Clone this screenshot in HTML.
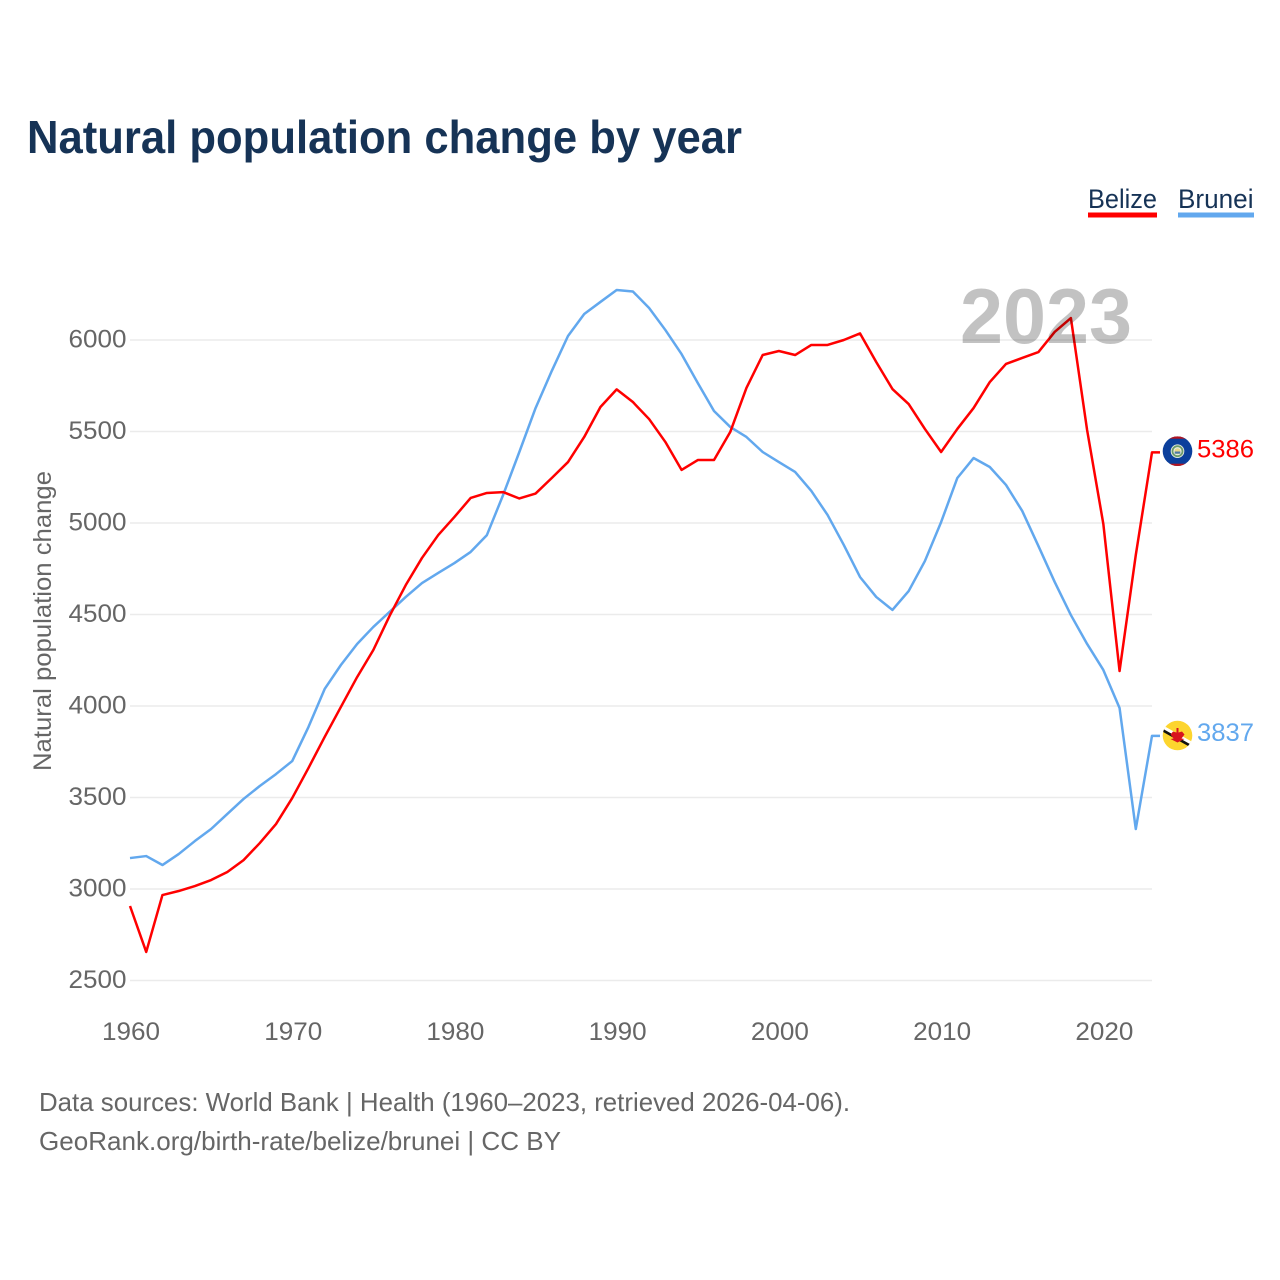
<!DOCTYPE html>
<html lang="en">
<head>
<meta charset="utf-8">
<title>Natural population change by year</title>
<style>
html,body{margin:0;padding:0;background:#fff;}
svg{display:block;font-family:"Liberation Sans",sans-serif;}
</style>
</head>
<body>
<svg id="chart" xmlns="http://www.w3.org/2000/svg" width="1280" height="1280" viewBox="0 0 1280 1280">
  <rect x="0" y="0" width="1280" height="1280" fill="#fff"/>
  <text x="27" y="153" font-size="46" font-weight="700" fill="#163356" textLength="715" lengthAdjust="spacingAndGlyphs">Natural population change by year</text>

  <g>
    <text x="1088" y="208" font-size="27" fill="#163356" textLength="69" lengthAdjust="spacingAndGlyphs">Belize</text>
    <rect x="1088" y="212.5" width="69" height="5" fill="#ff0000"/>
  </g>
  <g>
    <text x="1178" y="208" font-size="27" fill="#163356" textLength="75.500" lengthAdjust="spacingAndGlyphs">Brunei</text>
    <rect x="1178" y="212.5" width="76" height="5" fill="#62a8ee"/>
  </g>

  <g id="grid"></g>
  <g id="yticks"></g>
  <g id="xticks"></g>
  <text transform="translate(51,621) rotate(-90)" text-anchor="middle" font-size="25" fill="#666" textLength="300" lengthAdjust="spacingAndGlyphs">Natural population change</text>

  <g id="series"></g>

  <text id="year" x="1132" y="343" text-anchor="end" font-size="78" font-weight="700" fill="#000" fill-opacity="0.24" textLength="172" lengthAdjust="spacingAndGlyphs">2023</text>

  <g transform="translate(1177.500,451.200)">
    <clipPath id="clipBz"><circle cx="0" cy="0" r="14.800"/></clipPath>
    <g clip-path="url(#clipBz)">
      <rect x="-15" y="-15" width="30" height="30" fill="#0b3f9c"/>
      <rect x="-15" y="-15" width="30" height="2.500" fill="#b5141f"/>
      <rect x="-15" y="12.500" width="30" height="2.500" fill="#b5141f"/>
    </g>
    <circle cx="0" cy="0" r="6.800" fill="#e8eee4"/>
    <circle cx="0" cy="0" r="5" fill="none" stroke="#6d9a6a" stroke-width="1.800"/>
    <circle cx="0" cy="0" r="3" fill="#e8d68a"/>
    <rect x="-2.800" y="0.300" width="5.600" height="2.200" fill="#4a78a8"/>
  </g>
  <g transform="translate(1177.500,735.500)">
    <clipPath id="clipBn"><circle cx="0" cy="0" r="14.800"/></clipPath>
    <g clip-path="url(#clipBn)">
      <rect x="-15" y="-15" width="30" height="30" fill="#fdd52e"/>
      <path d="M-16,-11 L16,7 L16,10.500 L-16,-7.500 Z" fill="#ffffff"/>
      <path d="M-16,-7.500 L16,10.500 L16,13.500 L-16,-4.500 Z" fill="#111111"/>
    </g>
    <path d="M-1,-7.500 L1,-7.500 L1,-3 L4.500,-4 L7,-1 L4,3 L7,3.500 L0,7 L-7,3.500 L-4,3 L-7,-1 L-4.500,-4 L-1,-3 Z" fill="#d8141f"/>
  </g>

  <g id="endLabels"></g>

  <text x="39" y="1111" font-size="26" fill="#666" textLength="811" lengthAdjust="spacingAndGlyphs">Data sources: World Bank | Health (1960–2023, retrieved 2026-04-06).</text>
  <text x="39" y="1150" font-size="26" fill="#666" textLength="522" lengthAdjust="spacingAndGlyphs">GeoRank.org/birth-rate/belize/brunei | CC BY</text>
</svg>
<script>
const firstYear = 1960;
const belizeValues = [2907,2656,2967,2989,3016,3049,3093,3158,3251,3355,3497,3661,3831,3995,4158,4306,4492,4661,4809,4934,5033,5137,5164,5169,5134,5161,5246,5333,5470,5634,5730,5661,5568,5443,5290,5344,5344,5497,5738,5918,5940,5918,5973,5973,6000,6036,5880,5732,5650,5514,5388,5514,5628,5770,5869,5902,5934,6044,6120,5508,4995,4191,4825,5386];
const bruneiValues = [3169,3180,3131,3191,3262,3328,3410,3492,3563,3628,3699,3885,4093,4224,4339,4432,4514,4596,4672,4727,4781,4842,4934,5153,5388,5628,5831,6022,6142,6208,6273,6265,6175,6055,5923,5765,5612,5525,5470,5388,5333,5279,5175,5044,4880,4705,4596,4525,4628,4792,5005,5246,5355,5306,5208,5066,4874,4678,4497,4339,4197,3989,3328,3837];
const yTickValues = [2500,3000,3500,4000,4500,5000,5500,6000];
const xTickYears = [1960,1970,1980,1990,2000,2010,2020];

const NS = 'http://www.w3.org/2000/svg';
function xScale(year){ return 130 + (year - 1960) * (1152 - 130) / 63; }
function yScale(v){ return 980.5 - (v - 2500) * (640.5 / 3500); }

const grid = document.getElementById('grid');
const yticks = document.getElementById('yticks');
const xticks = document.getElementById('xticks');
const series = document.getElementById('series');
const endLabels = document.getElementById('endLabels');

yTickValues.forEach(function(v){
  const line = document.createElementNS(NS, 'line');
  
  
  line.setAttribute('x1', 130);
  line.setAttribute('x2', 1152);
  line.setAttribute('y1', yScale(v));
  line.setAttribute('y2', yScale(v));
  line.setAttribute('stroke', '#ebebeb');
  line.setAttribute('stroke-width', '1.5');
  grid.appendChild(line);

  const t = document.createElementNS(NS, 'text');
  
  
  t.setAttribute('x', 126.5);
  t.setAttribute('y', yScale(v) + 7.5);
  t.setAttribute('text-anchor', 'end');
  t.setAttribute('font-size', '25');
  t.setAttribute('fill', '#666');
  t.setAttribute('textLength', '58');
  t.setAttribute('lengthAdjust', 'spacingAndGlyphs');
  t.textContent = String(v);
  yticks.appendChild(t);
});

xTickYears.forEach(function(y){
  const t = document.createElementNS(NS, 'text');
  
  
  t.setAttribute('x', xScale(y) + 1);
  t.setAttribute('y', 1040);
  t.setAttribute('text-anchor', 'middle');
  t.setAttribute('font-size', '25');
  t.setAttribute('fill', '#666');
  t.setAttribute('textLength', '58');
  t.setAttribute('lengthAdjust', 'spacingAndGlyphs');
  t.textContent = String(y);
  xticks.appendChild(t);
});

function drawSeries(values, color, key){
  const pts = values.map(function(v, i){ return xScale(firstYear + i).toFixed(2) + ',' + yScale(v).toFixed(2); });
  const lastY = yScale(values[values.length - 1]);
  pts.push((xScale(firstYear + values.length - 1) + 8).toFixed(2) + ',' + lastY.toFixed(2));
  const p = document.createElementNS(NS, 'polyline');
  
  
  p.setAttribute('points', pts.join(' '));
  p.setAttribute('fill', 'none');
  p.setAttribute('stroke', color);
  p.setAttribute('stroke-width', '2.5');
  p.setAttribute('stroke-linejoin', 'round');
  series.appendChild(p);

  const t = document.createElementNS(NS, 'text');
  
  
  t.setAttribute('x', 1197);
  t.setAttribute('y', lastY + 5);
  t.setAttribute('font-size', '25');
  t.setAttribute('fill', color);
  t.setAttribute('textLength', '57');
  t.setAttribute('lengthAdjust', 'spacingAndGlyphs');
  t.textContent = String(values[values.length - 1]);
  endLabels.appendChild(t);
}
drawSeries(bruneiValues, '#62a8ee', 'brunei');
drawSeries(belizeValues, '#ff0000', 'belize');
</script>
</body>
</html>
